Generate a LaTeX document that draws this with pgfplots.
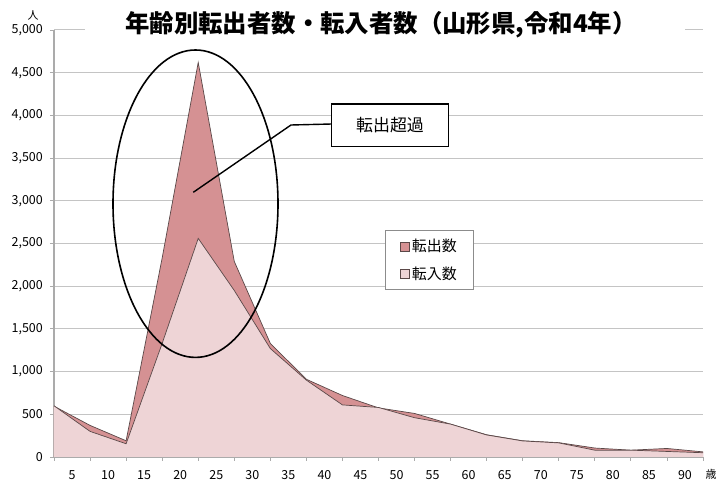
\documentclass[border=0pt]{standalone}
\usepackage{pgfplots}
\usepackage{pgfplotstable}
\pgfplotsset{compat=1.18}
\usepackage{fontspec}
\setmainfont{Noto Sans CJK JP}
\definecolor{outc}{HTML}{D59193}
\definecolor{inc}{HTML}{EED4D6}
\definecolor{edge}{HTML}{5A4848}
\definecolor{gridc}{HTML}{C4C4C4}
\definecolor{axc}{HTML}{ABABAB}
\pgfplotstableread{
x out in
0 595 600
1 370 300
2 190 155
3 2330 1330
4 4620 2560
5 2290 1950
6 1330 1270
7 910 900
8 720 610
9 575 580
10 510 460
11 385 385
12 260 258
13 190 188
14 168 165
15 105 80
16 80 80
17 100 65
18 60 50
}\datatable
\begin{document}
\begin{tikzpicture}
\path[use as bounding box] (-54bp,-24bp) rectangle (663bp,457bp);
\begin{axis}[
  at={(0,0)}, anchor=south west,
  scale only axis, width=649bp, height=427bp,
  xmin=0, xmax=18, ymin=0, ymax=5000,
  axis lines=left,
  axis line style={-, draw=axc, line width=1.3bp},
  xtick={0.5,1.5,...,17.5},
  xticklabels={5,10,15,20,25,30,35,40,45,50,55,60,65,70,75,80,85,90},
  major x tick style={draw=none},
  minor xtick={0,1,...,18},
  minor x tick style={draw=axc, line width=0.8bp},
  minor tick length=4bp,
  major tick length=4bp,
  tick align=outside,
  ytick={0,500,...,5000},
  y tick style={draw=axc, line width=0.8bp},
  ymajorgrids,
  grid style={draw=gridc, line width=1bp},
  tick label style={font=\fontsize{12.5}{14}\selectfont},
  /pgf/number format/assume math mode=true,
  /pgf/number format/.cd, 1000 sep={,}, /pgfplots/.cd,
  scaled y ticks=false,
  yticklabel style={inner sep=0pt, xshift=-7bp},
  xticklabel style={inner sep=0pt, yshift=-9bp},
  legend style={at={(0.510,0.5316)}, anchor=north west, draw=gray!90, fill=white,
    font=\fontsize{15}{17}\selectfont, row sep=9bp, inner xsep=15bp, inner ysep=7bp,
    line width=0.8bp},
  legend cell align=left,
]
\addplot[fill=outc, draw=none,
  legend image code/.code={\draw[fill=outc, draw=edge, line width=0.5bp] (0bp,-4.5bp) rectangle (9bp,4.5bp);}]
  table[x=x,y=out]{\datatable} \closedcycle;
\addlegendentry{転出数}
\addplot[draw=edge, line width=0.7bp, forget plot] table[x=x,y=out]{\datatable};
\addplot[fill=inc, draw=none,
  legend image code/.code={\draw[fill=inc, draw=edge, line width=0.5bp] (0bp,-4.5bp) rectangle (9bp,4.5bp);}]
  table[x=x,y=in]{\datatable} \closedcycle;
\addlegendentry{転入数}
\addplot[draw=edge, line width=0.7bp, forget plot] table[x=x,y=in]{\datatable};
\end{axis}
% hide top gridline behind title
\fill[white] (31bp,423bp) rectangle (631bp,431bp);
\node[font=\fontsize{24.5}{28}\selectfont\bfseries] at (327bp,432bp) {年齢別転出者数・転入者数（山形県,令和4年）};
\node[font=\fontsize{11}{12}\selectfont] at (-21bp,442bp) {人};
\node[font=\fontsize{11}{12}\selectfont] at (657bp,-17bp) {歳};
% ellipse
\draw[black, line width=1.6bp] (141.5bp,253.3bp) ellipse [x radius=82.5bp, y radius=153.7bp];
% callout
\draw[black, line width=1.4bp] (139.3bp,264.7bp) -- (237bp,332bp) -- (277.7bp,333bp);
\node[draw=black, line width=1.4bp, fill=white, minimum width=116.6bp, minimum height=42.7bp,
  font=\fontsize{17}{19}\selectfont, inner sep=0pt] at (336bp,331.7bp) {転出超過};
\end{tikzpicture}
\end{document}
